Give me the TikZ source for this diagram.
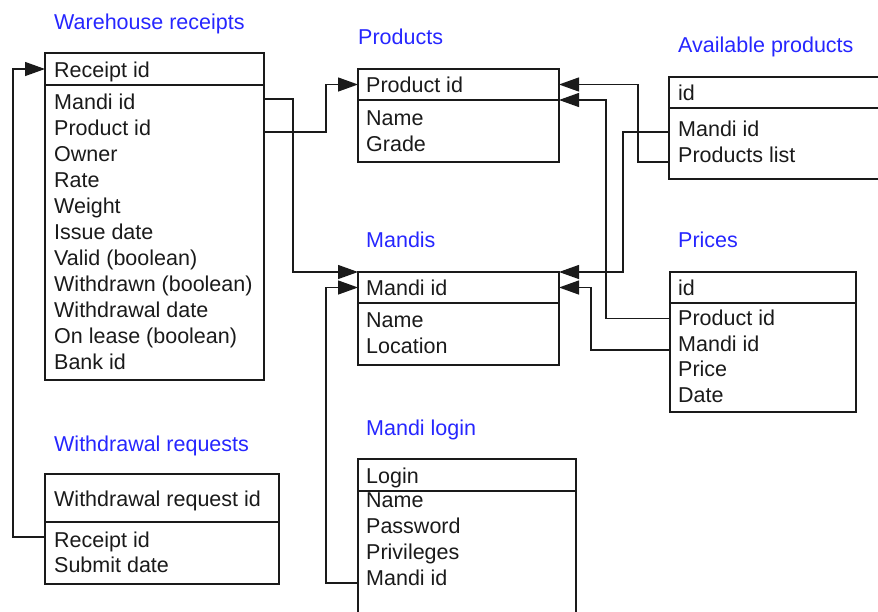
\documentclass[tikz,border=0pt]{standalone}
\usepackage{fontspec}
\setmainfont{Liberation Sans}
\usetikzlibrary{arrows.meta, positioning, calc}
\definecolor{erblue}{HTML}{2626FF}
\definecolor{erink}{HTML}{1A1A1A}

\begin{document}
\begin{tikzpicture}[
  x=1pt, y=-1pt,
  every node/.style={font=\fontsize{21.5}{26}\selectfont},
  tabtitle/.style={anchor=west, inner sep=0pt, text=erblue, text height=16pt, text depth=0pt},
  field/.style={anchor=west, inner sep=0pt, text=erink, text height=16pt, text depth=0pt},
  tabbox/.style={rectangle, draw=erink, line width=1.4pt, anchor=north west, inner sep=0pt, outer sep=0pt},
  link/.style={draw=erink, line width=1.3pt, -{Triangle[length=20pt, width=14pt]}},
]
\useasboundingbox (0,0) rectangle (878,611);
\clip (0,0) rectangle (878,611);

% Warehouse receipts
\node[tabtitle] (wrTitle) at (54,21) {Warehouse receipts};
\node[tabbox, minimum width=219pt, minimum height=32pt] (wrHead) at (45,53) {};
\node[tabbox, minimum width=219pt, minimum height=295pt] (wrBody) at (wrHead.south west) {};
\node[field, xshift=9pt] (wrKey) at (wrHead.west) {Receipt id};
\foreach \f [count=\i] in {Mandi id, Product id, Owner, Rate, Weight, Issue date, {Valid (boolean)}, {Withdrawn (boolean)}, Withdrawal date, {On lease (boolean)}, Bank id}
  \node[field] (wr\i) at (54, 75+26*\i) {\f};

% Products
\node[tabtitle] (prTitle) at (358,36) {Products};
\node[tabbox, minimum width=201pt, minimum height=31pt] (prHead) at (358,69) {};
\node[tabbox, minimum width=201pt, minimum height=62pt] (prBody) at (prHead.south west) {};
\node[field, xshift=8pt] (prKey) at (prHead.west) {Product id};
\foreach \f [count=\i] in {Name, Grade}
  \node[field] (pr\i) at (366, 91.5+26*\i) {\f};

% Mandis
\node[tabtitle] (mdTitle) at (366,239) {Mandis};
\node[tabbox, minimum width=201pt, minimum height=31pt] (mdHead) at (358,272) {};
\node[tabbox, minimum width=201pt, minimum height=62pt] (mdBody) at (mdHead.south west) {};
\node[field, xshift=8pt] (mdKey) at (mdHead.west) {Mandi id};
\foreach \f [count=\i] in {Name, Location}
  \node[field] (md\i) at (366, 293+26*\i) {\f};

% Available products
\node[tabtitle] (apTitle) at (678,44) {Available products};
\node[tabbox, minimum width=230pt, minimum height=31pt] (apHead) at (669,77) {};
\node[tabbox, minimum width=230pt, minimum height=71pt] (apBody) at (apHead.south west) {};
\node[field, xshift=9pt] (apKey) at (apHead.west) {id};
\foreach \f [count=\i] in {Mandi id, Products list}
  \node[field] (ap\i) at (678, 102+26*\i) {\f};

% Prices
\node[tabtitle] (pcTitle) at (678,239) {Prices};
\node[tabbox, minimum width=186pt, minimum height=31pt] (pcHead) at (670,272) {};
\node[tabbox, minimum width=186pt, minimum height=109pt] (pcBody) at (pcHead.south west) {};
\node[field, xshift=8pt] (pcKey) at (pcHead.west) {id};
\foreach \f [count=\i] in {Product id, Mandi id, Price, Date}
  \node[field] (pc\i) at (678, 292+25.5*\i) {\f};

% Withdrawal requests
\node[tabtitle] (wqTitle) at (54,443) {Withdrawal requests};
\node[tabbox, minimum width=234pt, minimum height=48pt] (wqHead) at (45,474) {};
\node[tabbox, minimum width=234pt, minimum height=62pt] (wqBody) at (wqHead.south west) {};
\node[field, xshift=9pt] (wqKey) at (wqHead.west) {Withdrawal request id};
\foreach \f [count=\i] in {Receipt id, Submit date}
  \node[field] (wq\i) at (54, 514+25*\i) {\f};

% Mandi login
\node[tabtitle] (mlTitle) at (366,427) {Mandi login};
\node[tabbox, minimum width=218pt, minimum height=32pt] (mlHead) at (358,459) {};
\node[tabbox, minimum width=218pt, minimum height=150pt] (mlBody) at (mlHead.south west) {};
\node[field, xshift=8pt] (mlKey) at (mlHead.west) {Login};
\foreach \f [count=\i] in {Name, Password, Privileges, Mandi id}
  \node[field] (ml\i) at (366, 473+26*\i) {\f};

% Foreign keys
\draw[link] ($(wqBody.west |- wq1)+(0,-2)$) -- ++(-32,0) |- (wrHead.west);
\draw[link] ($(wrBody.east |- wr1)+(0,-2)$) -- ++(29,0) |- (mdHead.north west);
\draw[link] ($(wrBody.east |- wr2)+(0,5)$) -- ++(62,0) |- (prHead.west);
\draw[link] ($(apBody.west |- ap1)+(0,4)$) -- ++(-46,0) |- (mdHead.north east);
\draw[link] ($(apBody.west |- ap2)+(0,8)$) -- ++(-31,0) |- (prHead.east);
\draw[link] ($(pcBody.west |- pc1)+(0,1)$) -- ++(-64,0) |- (prBody.north east);
\draw[link] ($(pcBody.west |- pc2)+(0,7)$) -- ++(-79,0) |- (mdHead.east);
\draw[link] ($(mlBody.west |- ml4)+(0,6)$) -- ++(-32,0) |- (mdHead.west);

\end{tikzpicture}
\end{document}
